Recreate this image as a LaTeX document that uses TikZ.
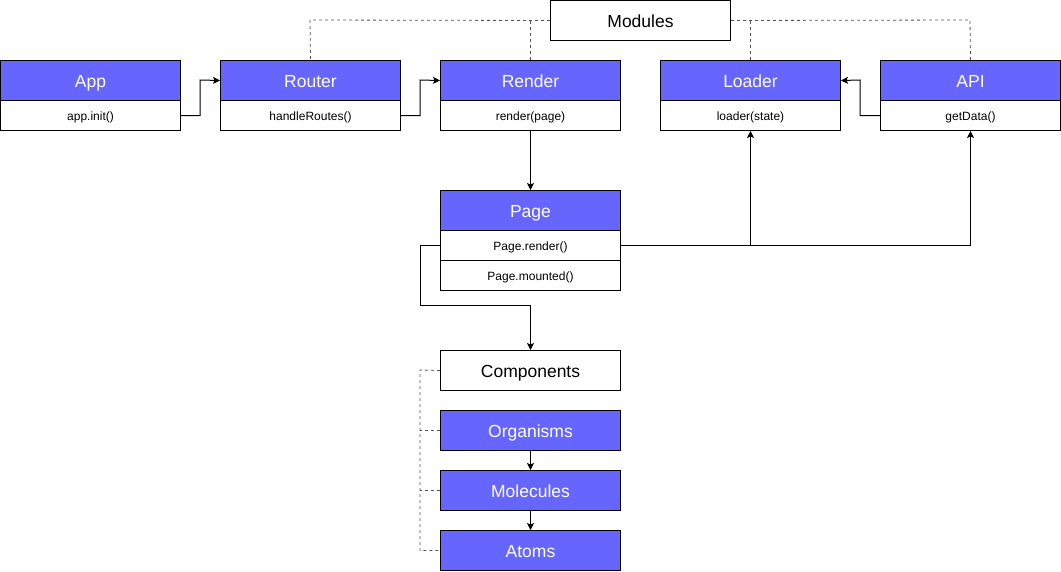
\documentclass[tikz,border=0pt]{standalone}
\usepackage{fontspec}
\setmainfont{Liberation Sans}
\usetikzlibrary{arrows.meta}
\definecolor{hdr}{HTML}{6666FF}
\definecolor{dsh}{HTML}{555555}
\begin{document}
\begin{tikzpicture}[x=1pt,y=-1pt,
  base/.style={draw=black,line width=1pt,minimum width=180pt,inner sep=0pt,text depth=0pt,anchor=north west},
  hbox/.style={base,fill=hdr,text=white,minimum height=40pt,text height=13.4pt,font=\fontsize{17.5}{20}\selectfont},
  wbox/.style={base,fill=white,minimum height=40pt,text height=13.4pt,font=\fontsize{17.5}{20}\selectfont},
  bbox/.style={base,fill=white,minimum height=30pt,text height=9.4pt,font=\fontsize{12}{14}\selectfont},
  arr/.style={draw=black,line width=1pt,-{Stealth[length=7pt,width=7pt,inset=1.5pt]}},
  dl/.style={draw=dsh,line width=0.8pt,dash pattern=on 3pt off 3pt}
]
\useasboundingbox (0,0) rectangle (1061,571);
\node[wbox] (mod) at (550,0) {Modules};
\coordinate (dl1) at (310,20);
\coordinate (dl2) at (970,20);
% boxes
\node[hbox] (app) at (0,60) {App};
\node[bbox] (appb) at (0,100) {app.init()};
\node[hbox] (router) at (220,60) {Router};
\node[bbox] (routerb) at (220,100) {handleRoutes()};
\node[hbox] (render) at (440,60) {Render};
\node[bbox] (renderb) at (440,100) {render(page)};
\node[hbox] (loader) at (660,60) {Loader};
\node[bbox] (loaderb) at (660,100) {loader(state)};
\node[hbox] (api) at (880,60) {API};
\node[bbox] (apib) at (880,100) {getData()};
\node[hbox] (page) at (440,190) {Page};
\node[bbox] (pager) at (440,230) {Page.render()};
\node[bbox] (pagem) at (440,260) {Page.mounted()};
\node[wbox] (comp) at (440,350) {Components};
\node[hbox] (org) at (440,410) {Organisms};
\node[hbox] (mol) at (440,470) {Molecules};
\node[hbox] (atom) at (440,530) {Atoms};
% dashed
\draw[dl] (mod.west) -- (dl1) -- (router.north);
\draw[dl] (render.north) -- (render.north |- mod.west);
\draw[dl] (mod.east) -- (dl2) -- (api.north);
\draw[dl] (loader.north) -- (loader.north |- mod.east);
\coordinate (cl) at (420,370);
\draw[dl] (comp.west) -- (cl) -- (cl |- atom.west) -- (atom.west);
\draw[dl] (org.west) -- (cl |- org.west);
\draw[dl] (mol.west) -- (cl |- mol.west);
% arrows
\draw[arr] (appb.east) -| (200,80) -- (router.west);
\draw[arr] (routerb.east) -| (420,80) -- (render.west);
\draw[arr] (apib.west) -| (860,80) -- (loader.east);
\draw[arr] (renderb.south) -- (page.north);
\draw[arr] (pager.east) -| (apib.south);
\draw[arr] (loaderb.south |- pager.east) -- (loaderb.south);
\draw[arr] (pager.west) -| (420,305) -| (comp.north);
\draw[arr] (org.south) -- (mol.north);
\draw[arr] (mol.south) -- (atom.north);
\end{tikzpicture}
\end{document}
